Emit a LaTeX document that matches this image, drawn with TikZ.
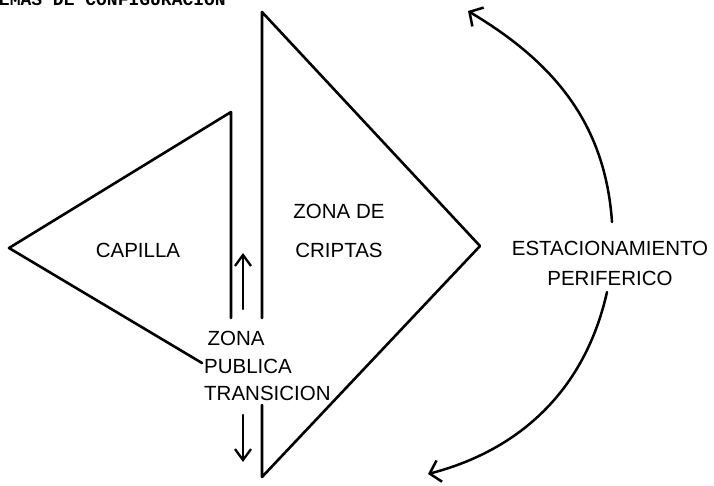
\documentclass[tikz,border=0pt]{standalone}
\usepackage{fontspec}
\setmainfont{Liberation Sans}
\setmonofont{Liberation Mono}
\usetikzlibrary{arrows.meta}
\tikzset{
  wall/.style={line width=2.6pt, line join=round, line cap=round},
  flow/.style={line width=2.5pt, line cap=round, -{Straight Barb[length=10pt,width=22pt,line width=2.5pt]}},
  smallflow/.style={line width=2.3pt, line cap=round, -{Straight Barb[length=11pt,width=16pt,line width=2.3pt]}},
  lbl/.style={inner sep=0pt, font=\fontsize{20.5}{27.5}\selectfont},
  heading/.style={inner sep=0pt, font=\fontsize{18}{20}\selectfont\ttfamily\bfseries}
}
\begin{document}
\begin{tikzpicture}[x=1pt,y=-1pt]
\useasboundingbox (0,0) rectangle (714,485);
\clip (0,0) rectangle (714,485);
\fill[white] (0,0) rectangle (714,485);

% heading (cut off at top edge, as in the reference)
\node[heading, anchor=base east] (head) at (226,5) {EMAS DE CONFIGURACION};

% Capilla triangle
\coordinate (capL) at (9,248);
\coordinate (capT) at (231,112);
\coordinate (capB) at (231,318);
\coordinate (capE) at (202,363);
\draw[wall] (capE) -- (capL) -- (capT) -- (capB);

% Criptas triangle
\coordinate (crT) at (262,12);
\coordinate (crR) at (480,246);
\coordinate (crB) at (262,477);
\coordinate (crU) at (262,318);
\coordinate (crD) at (262,405);
\draw[wall] (crU) -- (crT) -- (crR) -- (crB) -- (crD);

% small arrows in the public zone
\coordinate (upS) at (243,309);
\coordinate (upE) at (243,253);
\coordinate (dnS) at (243,415);
\coordinate (dnE) at (243,462);
\draw[smallflow] (upS) -- (upE);
\draw[smallflow] (dnS) -- (dnE);

% labels
\node[lbl] (capilla) at (138,250) {CAPILLA};
\node[lbl, align=center, font=\fontsize{20.5}{39}\selectfont] (criptas) at (339,230.5) {ZONA DE\\CRIPTAS};
\node[lbl, align=left, anchor=west] (publica) at (204,366) {\,ZONA\\PUBLICA\\TRANSICION};
\node[lbl, align=center, font=\fontsize{20.5}{30}\selectfont] (estac) at (610,263) {ESTACIONAMIENTO\\PERIFERICO};

% peripheral circulation arcs
\coordinate (a1s) at (612,222);
\coordinate (a1e) at (468,11);
\coordinate (a2s) at (607,292);
\coordinate (a2e) at (428,474);
\draw[flow] (a1s) .. controls (605,120) and (550,60) .. (a1e);
\draw[flow] (a2s) .. controls (585,390) and (520,450) .. (a2e);
\end{tikzpicture}
\end{document}
